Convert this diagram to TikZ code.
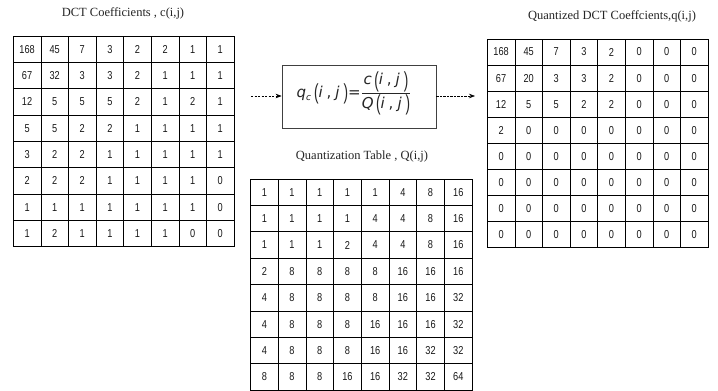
\documentclass[tikz,border=0pt]{standalone}
\usepackage{fontspec}
\usepackage{graphicx}
\setmainfont{Liberation Serif}
\newfontfamily\cellfont[FakeStretch=0.8]{Liberation Sans}
\newfontfamily\fmlfont{DejaVu Sans}
\newfontfamily\parfont{Liberation Sans}
\usetikzlibrary{arrows.meta}
\tikzset{
  cellbox/.style={draw=black, line width=0.8pt, inner sep=0pt, font=\cellfont\fontsize{11.5}{13}\selectfont, text=black!90},
  titletext/.style={font=\fontsize{12.5}{14}\selectfont, text=black!85, inner sep=0pt},
  fmlbox/.style={draw=black!75, line width=0.8pt, inner sep=0pt, minimum width=154pt, minimum height=63pt},
  flowarrow/.style={draw=black, line width=0.6pt, dash pattern=on 2.2pt off 1.3pt, -{Stealth[length=6pt,width=4.5pt]}}
}
\newcommand{\fmi}[1]{\mbox{\fmlfont\itshape #1}}
\newcommand{\fmr}[1]{\mbox{\fmlfont #1}}
\newcommand{\fmpar}[1]{\mbox{\raisebox{-0.32ex}{\scalebox{0.9}[1.45]{\parfont #1}}}}
\newcommand{\fmargs}{\fmpar{(}\fmi{i}\;\fmr{,}\;\fmi{j}\;\fmpar{)}}
\newcommand{\drawgrid}[6]{% name, x0, y0, w, h, rows
  \foreach \row [count=\r] in {#6} {
    \foreach \val [count=\c] in \row {
      \node[cellbox, minimum width=#4pt, minimum height=#5pt]
        (#1-\r-\c) at ({#2+(\c-0.5)*#4}, {#3+(\r-0.5)*#5}) {\val};
    }
  }
}
\begin{document}
\begin{tikzpicture}[x=1pt, y=-1pt]
\useasboundingbox (0,0) rectangle (718,391);
\fill[white] (0,0) rectangle (718,391);

% titles
\node[titletext] (t1) at (123,13) {DCT Coefficients , c(i,j)};
\node[titletext] (t2) at (612,16) {Quantized DCT Coeffcients,q(i,j)};
\node[titletext] (t3) at (362,156) {Quantization Table , Q(i,j)};

% DCT coefficients
\drawgrid{c}{13.3}{36}{27.6}{26.33}{
  {168,45,7,3,2,2,1,1},
  {67,32,3,3,2,1,1,1},
  {12,5,5,5,2,1,2,1},
  {5,5,2,2,1,1,1,1},
  {3,2,2,1,1,1,1,1},
  {2,2,2,1,1,1,1,0},
  {1,1,1,1,1,1,1,0},
  {1,2,1,1,1,1,0,0}}

% Quantized coefficients
\drawgrid{q}{487.3}{39}{27.6}{26.04}{
  {168,45,7,3,2,0,0,0},
  {67,20,3,3,2,0,0,0},
  {12,5,5,2,2,0,0,0},
  {2,0,0,0,0,0,0,0},
  {0,0,0,0,0,0,0,0},
  {0,0,0,0,0,0,0,0},
  {0,0,0,0,0,0,0,0},
  {0,0,0,0,0,0,0,0}}

% Quantization table
\drawgrid{Q}{250.5}{179}{27.7}{26.4}{
  {1,1,1,1,1,4,8,16},
  {1,1,1,1,4,4,8,16},
  {1,1,1,2,4,4,8,16},
  {2,8,8,8,8,16,16,16},
  {4,8,8,8,8,16,16,32},
  {4,8,8,8,16,16,16,32},
  {4,8,8,8,16,16,32,32},
  {8,8,8,16,16,32,32,64}}

% formula box
\node[fmlbox] (f) at (359,96.5) {};
\node[inner sep=0pt, text=black!85, font=\fmlfont\fontsize{15}{17}\selectfont] (fm) at (354,93.5)
  {$\displaystyle \fmi{q}_{\fmi{\fontsize{9}{10}\selectfont c}}\,\fmargs\fmr{=}\frac{\fmi{c}\,\fmargs}{\fmi{Q}\,\fmargs}$};

\coordinate (a1) at (251,96);
\coordinate (a2) at (475,96);
\draw[flowarrow] (a1) -- (f.west |- a1);
\draw[flowarrow] (f.east |- a2) -- (a2);
\end{tikzpicture}
\end{document}
